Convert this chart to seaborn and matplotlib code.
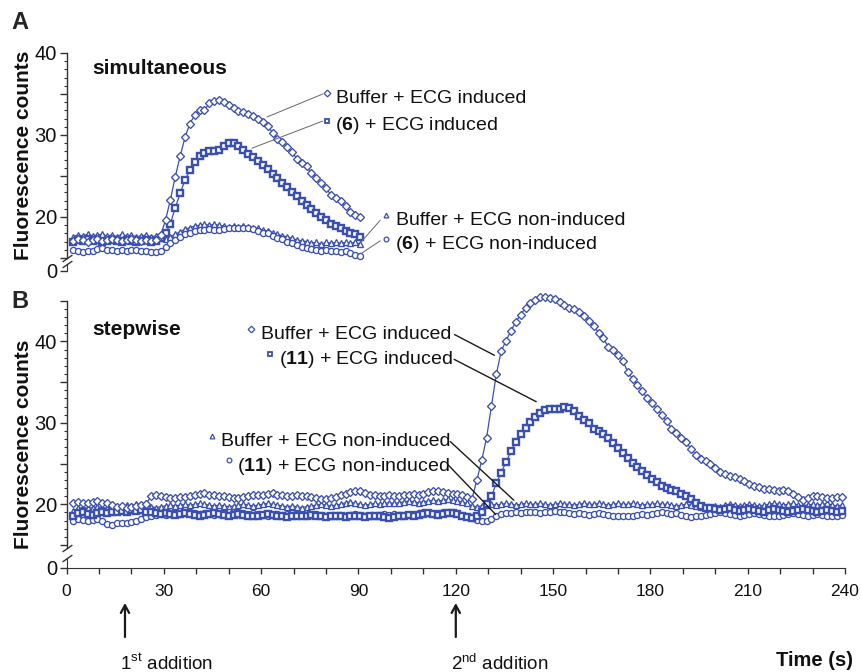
import matplotlib
matplotlib.use("Agg")
import matplotlib.pyplot as plt
import matplotlib.transforms as mtransforms
from matplotlib import font_manager
from matplotlib.ticker import MultipleLocator, FixedLocator, FuncFormatter
import numpy as np
import pandas as pd
import seaborn as sns


# panel A - simultaneous addition, one reading every 1.5 s from t = 2 s
buffer_ind_a = [17.1, 17.3, 17.2, 17.0, 17.2, 17.3, 17.1, 17.2, 17.3, 17.2,
                17.1, 17.2, 17.3, 17.2, 17.1, 17.2, 17.1, 17.2, 17.8, 19.6,
                22.1, 24.9, 27.4, 29.7, 31.4, 32.4, 33.1, 33.0, 33.9, 34.2,
                34.3, 34.0, 33.6, 33.3, 32.9, 32.8, 32.6, 32.3, 32.0, 31.6,
                31.1, 30.3, 29.5, 29.1, 28.5, 27.9, 27.1, 26.6, 26.2, 25.4,
                24.7, 24.1, 23.5, 22.7, 22.3, 21.9, 21.3, 20.6, 20.3, 20.0]
cmpd6_ind_a = [17.0, 17.2, 17.1, 17.3, 17.1, 17.2, 17.0, 17.1, 17.2, 17.1,
               17.0, 17.2, 17.1, 17.0, 17.1, 17.2, 17.0, 17.1, 17.5, 18.0,
               19.2, 21.1, 22.9, 24.5, 25.7, 26.7, 27.4, 27.8, 28.0, 28.0,
               28.2, 28.6, 29.0, 29.0, 28.6, 28.2, 27.7, 27.3, 26.8, 26.3,
               25.8, 25.3, 24.8, 24.2, 23.7, 23.1, 22.6, 22.0, 21.5, 21.0,
               20.5, 20.0, 19.6, 19.2, 18.9, 18.6, 18.3, 18.1, 17.9, 17.6]
buffer_non_a = [17.6, 17.8, 17.7, 17.9, 17.7, 17.8, 17.9, 17.7, 17.8, 17.6,
                17.9, 17.7, 17.8, 17.6, 17.7, 17.8, 17.6, 17.7, 17.4, 17.3,
                17.6, 17.9, 18.2, 18.5, 18.7, 18.9, 19.0, 19.1, 19.0, 19.1,
                19.0, 18.9, 18.8, 18.9, 18.8, 18.9, 18.8, 18.7, 18.6, 18.4,
                18.3, 18.1, 17.9, 17.7, 17.6, 17.4, 17.2, 17.1, 17.0, 16.8,
                16.9, 16.7, 16.9, 16.8, 16.9, 16.8, 16.9, 16.8, 16.9, 16.7]
cmpd6_non_a = [16.0, 15.8, 15.7, 15.9, 15.8, 16.1, 16.2, 16.0, 16.0, 15.9,
               16.0, 15.9, 16.0, 16.0, 15.9, 15.8, 15.7, 15.7, 15.8, 16.3,
               16.8, 17.2, 17.6, 17.9, 18.1, 18.3, 18.4, 18.4, 18.5, 18.4,
               18.4, 18.5, 18.6, 18.6, 18.7, 18.6, 18.6, 18.5, 18.3, 18.1,
               18.0, 17.7, 17.5, 17.3, 17.0, 16.8, 16.6, 16.4, 16.2, 16.1,
               16.0, 15.9, 16.0, 15.9, 15.8, 15.7, 15.8, 15.6, 15.4, 15.3]

# panel B - stepwise addition
buffer_ind_b = [20.2, 20.3, 20.2, 20.1, 20.3, 20.4, 20.2, 20.1, 19.9, 19.7,
                19.8, 19.6, 19.7, 19.8, 19.9, 20.0, 21.0, 21.1, 21.0, 20.9,
                20.8, 20.8, 20.9, 20.9, 21.0, 21.1, 21.3, 21.4, 21.2, 21.1,
                21.0, 21.0, 20.9, 20.8, 20.8, 20.9, 21.0, 21.1, 21.2, 21.2,
                21.3, 21.4, 21.2, 21.1, 21.0, 21.0, 21.1, 21.0, 21.0, 20.9,
                20.8, 20.7, 20.6, 20.8, 20.9, 21.1, 21.3, 21.5, 21.6, 21.6,
                21.4, 21.2, 21.1, 21.0, 21.0, 21.1, 21.0, 21.0, 21.1, 21.2,
                21.3, 21.2, 21.3, 21.5, 21.6, 21.6, 21.5, 21.4, 21.3, 21.3,
                21.1, 20.9, 20.7, 23.0, 25.4, 28.2, 32.1, 36.0, 38.8, 40.1,
                41.3, 42.4, 43.3, 44.1, 44.7, 45.1, 45.4, 45.5, 45.3, 45.2,
                44.8, 44.5, 44.1, 44.0, 43.6, 43.1, 42.5, 41.9, 41.1, 40.4,
                39.3, 38.9, 38.3, 37.6, 36.3, 35.4, 34.6, 33.9, 33.0, 32.4,
                31.7, 31.0, 30.2, 29.3, 28.8, 28.2, 27.7, 26.8, 26.1, 25.6,
                25.3, 24.9, 24.5, 24.0, 23.7, 23.5, 23.3, 23.1, 22.8, 22.5,
                22.2, 22.1, 21.9, 21.9, 21.8, 21.6, 21.8, 21.6, 21.3, 20.9,
                20.5, 20.8, 21.0, 21.0, 20.9, 20.8, 20.8, 20.9, 20.9]
cmpd11_ind_b = [18.6, 18.9, 19.0, 18.8, 18.7, 18.9, 19.0, 18.9, 19.1, 19.0,
                19.2, 19.1, 19.3, 19.2, 19.3, 19.1, 19.0, 18.9, 18.8, 18.9,
                18.8, 18.7, 18.8, 18.9, 18.8, 18.7, 18.6, 18.7, 18.8, 18.9,
                18.8, 18.7, 18.6, 18.7, 18.8, 18.7, 18.6, 18.5, 18.6, 18.7,
                18.8, 18.7, 18.6, 18.5, 18.4, 18.5, 18.6, 18.5, 18.6, 18.7,
                18.6, 18.5, 18.4, 18.5, 18.6, 18.5, 18.4, 18.5, 18.6, 18.5,
                18.4, 18.5, 18.6, 18.5, 18.4, 18.3, 18.4, 18.5, 18.6, 18.7,
                18.6, 18.7, 18.8, 18.9, 18.8, 18.7, 18.8, 18.9, 18.9, 18.8,
                18.6, 18.4, 18.3, 18.5, 19.0, 20.0, 21.0, 22.6, 23.9, 25.2,
                26.5, 27.7, 28.6, 29.4, 30.1, 30.7, 31.2, 31.6, 31.7, 31.7,
                31.7, 31.9, 31.8, 31.4, 30.9, 30.4, 30.0, 29.3, 29.0, 28.6,
                28.1, 27.5, 26.9, 26.3, 25.7, 25.1, 24.6, 24.1, 23.6, 23.1,
                22.7, 22.3, 22.0, 21.8, 21.6, 21.3, 21.05, 20.6, 20.1, 19.8,
                19.6, 19.5, 19.4, 19.3, 19.4, 19.5, 19.3, 19.2, 19.3, 19.4,
                19.3, 19.2, 19.1, 19.3, 19.4, 19.3, 19.2, 19.1, 19.2, 19.3,
                19.4, 19.3, 19.2, 19.1, 19.2, 19.3, 19.2, 19.1, 19.2]
buffer_non_b = [19.2, 19.5, 19.6, 19.5, 19.6, 19.7, 19.6, 19.5, 19.7, 19.8,
                19.7, 19.9, 19.8, 20.0, 19.9, 20.1, 19.7, 19.6, 19.7, 19.8,
                19.9, 19.8, 19.9, 20.0, 19.9, 20.0, 20.1, 20.0, 19.9, 19.8,
                19.9, 19.8, 19.7, 19.8, 19.9, 20.0, 19.9, 19.8, 19.9, 20.0,
                20.1, 20.0, 19.9, 19.8, 19.7, 19.8, 19.7, 19.6, 19.7, 19.8,
                19.9, 20.0, 19.9, 19.8, 19.9, 20.0, 20.2, 20.3, 20.1, 20.0,
                19.9, 20.0, 20.1, 20.0, 20.1, 20.2, 20.1, 20.2, 20.3, 20.4,
                20.3, 20.2, 20.3, 20.4, 20.5, 20.4, 20.5, 20.6, 20.5, 20.4,
                20.3, 20.1, 19.8, 19.7, 19.8, 19.9, 20.0, 19.9, 20.0, 20.1,
                20.0, 19.9, 20.0, 20.1, 20.0, 20.0, 20.1, 20.0, 19.9, 20.0,
                20.1, 20.0, 20.0, 19.9, 20.0, 20.1, 20.0, 20.0, 20.1, 20.0,
                19.9, 20.0, 20.1, 20.0, 20.0, 20.1, 20.0, 19.9, 20.0, 20.0,
                20.1, 20.0, 20.0, 19.9, 19.8, 19.9, 20.0, 19.9, 19.8, 19.7,
                19.6, 19.7, 19.8, 19.7, 19.9, 20.0, 19.9, 19.8, 19.9, 20.0,
                19.9, 19.8, 19.9, 20.0, 20.1, 20.0, 19.9, 20.0, 20.1, 19.9,
                19.8, 19.9, 20.0, 19.9, 20.0, 20.1, 19.9, 19.8, 19.9]
cmpd11_non_b = [18.0, 18.2, 18.1, 18.0, 18.1, 18.2, 17.9, 17.6, 17.5, 17.7,
                17.7, 17.7, 17.8, 18.0, 18.2, 18.4, 18.6, 18.7, 18.8, 18.7,
                18.8, 18.9, 18.8, 18.9, 19.0, 18.9, 18.8, 18.9, 18.8, 18.7,
                18.8, 18.9, 19.0, 19.1, 19.0, 18.9, 18.8, 18.9, 18.8, 18.7,
                18.6, 18.7, 18.8, 18.7, 18.8, 18.9, 18.8, 18.7, 18.6, 18.7,
                18.8, 18.7, 18.6, 18.5, 18.6, 18.7, 18.6, 18.7, 18.8, 18.7,
                18.6, 18.5, 18.6, 18.7, 18.8, 18.7, 18.8, 18.7, 18.6, 18.7,
                18.8, 18.9, 19.0, 18.9, 18.8, 18.9, 19.0, 19.1, 19.0, 18.9,
                18.7, 18.5, 18.3, 18.1, 18.0, 18.0, 18.2, 18.6, 18.8, 18.9,
                18.9, 19.0, 18.9, 19.0, 19.1, 19.0, 18.9, 19.0, 19.1, 19.2,
                19.1, 19.0, 18.9, 18.8, 18.9, 18.8, 18.7, 18.8, 18.9, 18.8,
                18.7, 18.6, 18.5, 18.6, 18.5, 18.6, 18.7, 18.8, 18.7, 18.8,
                18.9, 19.0, 18.9, 18.8, 18.9, 18.7, 18.5, 18.4, 18.5, 18.6,
                18.7, 18.8, 18.9, 19.0, 18.9, 18.8, 18.7, 18.6, 18.7, 18.8,
                18.9, 18.8, 18.7, 18.6, 18.5, 18.6, 18.7, 18.8, 18.9, 18.8,
                18.7, 18.6, 18.7, 18.8, 18.7, 18.6, 18.5, 18.6, 18.7]

time_a = 2 + 1.5 * np.arange(len(buffer_ind_a))
time_b = 2 + 1.5 * np.arange(len(buffer_ind_b))

x_ticks = [0, 30, 60, 90, 120, 150, 180, 210, 240]
additions = [18, 120]
addition_labels = ["1$^{\\mathrm{st}}$ addition", "2$^{\\mathrm{nd}}$ addition"]

BLUE = "#3A4FAF"
AXC = "#333333"

sns.set_style("ticks")
names = {f.name for f in font_manager.fontManager.ttflist}
NARROW = "Liberation Sans Narrow" if "Liberation Sans Narrow" in names else "Liberation Sans"
narrow_ok = NARROW != "Liberation Sans"
plt.rcParams["font.family"] = ["Liberation Sans", "DejaVu Sans"]
plt.rcParams["mathtext.fontset"] = "custom"
plt.rcParams["mathtext.rm"] = NARROW
plt.rcParams["mathtext.bf"] = "Liberation Sans:bold"
plt.rcParams["axes.edgecolor"] = AXC
plt.rcParams["xtick.color"] = AXC
plt.rcParams["ytick.color"] = AXC
plt.rcParams["xtick.labelcolor"] = "#111111"
plt.rcParams["ytick.labelcolor"] = "#111111"

STYLE = {
    "buffer_ind": dict(marker="D", markersize=4.3, markeredgewidth=0.95),
    "cmpd_ind": dict(marker="s", markersize=4.7, markeredgewidth=1.7),
    "buffer_non": dict(marker="^", markersize=5.0, markeredgewidth=0.95),
    "cmpd_non": dict(marker="o", markersize=4.4, markeredgewidth=0.95),
}

df_a = pd.concat([
    pd.DataFrame({"Time": time_a, "Counts": buffer_non_a, "Series": "buffer_non"}),
    pd.DataFrame({"Time": time_a, "Counts": cmpd6_non_a, "Series": "cmpd_non"}),
    pd.DataFrame({"Time": time_a, "Counts": cmpd6_ind_a, "Series": "cmpd_ind"}),
    pd.DataFrame({"Time": time_a, "Counts": buffer_ind_a, "Series": "buffer_ind"}),
])
df_b = pd.concat([
    pd.DataFrame({"Time": time_b, "Counts": buffer_non_b, "Series": "buffer_non"}),
    pd.DataFrame({"Time": time_b, "Counts": cmpd11_non_b, "Series": "cmpd_non"}),
    pd.DataFrame({"Time": time_b, "Counts": cmpd11_ind_b, "Series": "cmpd_ind"}),
    pd.DataFrame({"Time": time_b, "Counts": buffer_ind_b, "Series": "buffer_ind"}),
])

# label text, key marker position, text position, leader line (curve end, label end)
labels_a = [
    ("buffer_ind", "Buffer + ECG induced", (80.2, 35.1), (83.2, 33.9), (61.8, 32.2), (79.0, 35.0)),
    ("cmpd_ind", "($\\mathbf{6}$) + ECG induced", (80.2, 31.75), (82.9, 30.6), (57.2, 28.4), (79.0, 31.7)),
    ("buffer_non", "Buffer + ECG non-induced", (98.6, 20.25), (101.6, 19.0), (90.9, 17.0), (96.7, 19.6)),
    ("cmpd_non", "($\\mathbf{6}$) + ECG non-induced", (98.6, 17.3), (101.4, 16.06), (90.9, 15.57), (96.7, 17.1)),
]
labels_b = [
    ("buffer_ind", "Buffer + ECG induced", (56.9, 41.5), (59.8, 40.33), (131.9, 38.3), (119.6, 40.85)),
    ("cmpd_ind", "($\\mathbf{11}$) + ECG induced", (62.8, 38.4), (65.4, 37.2), (144.8, 32.6), (119.5, 37.8)),
    ("buffer_non", "Buffer + ECG non-induced", (44.9, 28.4), (47.5, 27.2), (137.9, 20.5), (118.3, 27.7)),
    ("cmpd_non", "($\\mathbf{11}$) + ECG non-induced", (50.1, 25.5), (52.6, 24.1), (132.3, 18.75), (117.5, 24.9)),
]

W, H = 862, 672
fig = plt.figure(figsize=(W / 100, H / 100), dpi=100)
left, width = 66.6 / W, (845 - 66.6) / W


def fy(py):
    return (H - py) / H


ax_a = fig.add_axes([left, fy(258), width, (258 - 53) / H])
ax_a0 = fig.add_axes([left, fy(271), width, 7 / H])
ax_b = fig.add_axes([left, fy(548.25), width, 247.5 / H])
ax_b0 = fig.add_axes([left, fy(567.5), width, 10 / H])


def draw(ax, df):
    for name in ["buffer_non", "cmpd_non", "cmpd_ind", "buffer_ind"]:
        sub = df[df["Series"] == name]
        sns.lineplot(data=sub, x="Time", y="Counts", ax=ax, color=BLUE,
                     linewidth=0.9, markerfacecolor="white", markeredgecolor=BLUE,
                     clip_on=False, legend=False, **STYLE[name])


def ten_only(v, pos):
    return "%d" % v if abs(v % 10) < 1e-6 else ""


for ax, df, ylim in [(ax_a, df_a, (15, 40)), (ax_b, df_b, (14.6, 45))]:
    draw(ax, df)
    ax.set_xlim(0, 240)
    ax.set_ylim(*ylim)
    ax.set_xlabel("")
    ax.set_ylabel("")
    for s in ["top", "right", "bottom"]:
        ax.spines[s].set_visible(False)
    ax.spines["left"].set_linewidth(1.0)
    ax.set_xticks([])
    ax.yaxis.set_major_locator(MultipleLocator(5))
    ax.yaxis.set_minor_locator(MultipleLocator(1))
    ax.yaxis.set_major_formatter(FuncFormatter(ten_only))
    ax.tick_params(axis="y", which="major", length=5, width=1, pad=2, labelsize=14.5)
    ax.tick_params(axis="y", which="minor", length=2.5, width=0.8)

for ax0, top in [(ax_a0, 7 / 8.2), (ax_b0, 10 / 8.25)]:
    ax0.set_xlim(0, 240)
    ax0.set_ylim(0, top)
    ax0.patch.set_alpha(0)
    for s in ["top", "right"]:
        ax0.spines[s].set_visible(False)
    ax0.yaxis.set_major_locator(FixedLocator([0]))
    ax0.tick_params(axis="y", length=5, width=1, pad=2, labelsize=14.5)

ax_a0.spines["bottom"].set_visible(False)
ax_a0.set_xticks([])

ax_b0.set_xticks(x_ticks)
ax_b0.xaxis.set_minor_locator(MultipleLocator(10))
ax_b0.tick_params(axis="x", which="both", length=4, width=1, pad=8,
                  labelsize=13.5 if narrow_ok else 12.5, labelfontfamily=NARROW)

# axis break marks
brk = dict(marker=[(-1, -0.7), (1, 0.7)], markersize=7, linestyle="none",
           color=AXC, mec=AXC, mew=1, clip_on=False)
for ax_top, ax_bot in [(ax_a, ax_a0), (ax_b, ax_b0)]:
    ax_top.plot([0], [0], transform=ax_top.transAxes, **brk)
    ax_bot.plot([0], [1], transform=ax_bot.transAxes, **brk)

# direct labels
for ax, labels, lcol, lw in [(ax_a, labels_a, "#666666", 0.7), (ax_b, labels_b, "#1a1a1a", 1.0)]:
    for name, txt, key, pos, p0, p1 in labels:
        st = STYLE[name]
        ax.plot([key[0]], [key[1]], marker=st["marker"], markersize=3.4,
                markeredgewidth=1.3 if name == "cmpd_ind" else 0.9,
                markerfacecolor="white", markeredgecolor=BLUE, linestyle="none", clip_on=False)
        ax.text(pos[0], pos[1], txt, fontsize=14, va="baseline", ha="left", color="#111111")
        ax.annotate("", xy=p0, xytext=p1,
                    arrowprops=dict(arrowstyle="-", color=lcol, lw=lw, shrinkA=0, shrinkB=0))

ax_a.text(7.8, 37.44, "simultaneous", fontsize=15, fontweight="bold", va="baseline", color="#111111")
ax_b.text(7.8, 40.85, "stepwise", fontsize=15, fontweight="bold", va="baseline", color="#111111")

for y in [fy(155), fy(444)]:
    fig.text(23.5 / W, y, "Fluorescence counts", rotation=90, fontsize=15,
             fontweight="bold", ha="center", va="center", color="#111111")
fig.text(19.5 / W, fy(22.5), "A", fontsize=17, fontweight="bold", ha="center", va="center")
fig.text(20 / W, fy(302), "B", fontsize=17, fontweight="bold", ha="center", va="center")

# addition arrows
blend = mtransforms.blended_transform_factory(ax_b0.transData, fig.transFigure)
for t, lab in zip(additions, addition_labels):
    ax_b0.annotate("", xy=(t, fy(603)), xycoords=blend,
                   xytext=(t, fy(637)), textcoords=blend,
                   arrowprops=dict(arrowstyle="->,head_length=0.55,head_width=0.3",
                                   color="#1a1a1a", lw=1.6, shrinkA=0, shrinkB=0))
    ax_b0.text(t - 1.6, fy(669.5), lab, transform=blend,
               fontsize=16 if narrow_ok else 13.5, family=NARROW, ha="left", va="baseline",
               color="#111111")

fig.text(853 / W, fy(666.5), "Time (s)", fontsize=14.5, fontweight="bold",
         ha="right", va="baseline", color="#111111")

fig.savefig("out.png", dpi=100)
